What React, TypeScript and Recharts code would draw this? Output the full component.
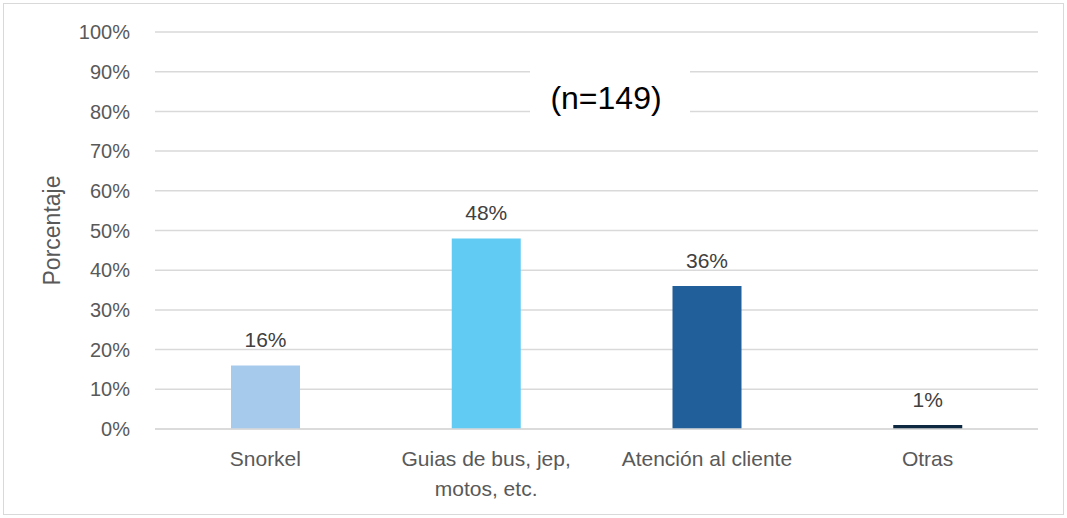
import React from 'react'
import { BarChart, Bar, XAxis, YAxis, CartesianGrid, Cell, LabelList } from 'recharts'

// categorías y valores (%)
const categories = ['Snorkel', 'Guias de bus, jep, motos, etc.', 'Atención al cliente', 'Otras']
const values = [16, 48, 36, 1]
const barColors = ['#A6CAEC', '#61CBF3', '#215F9A', '#0E2841']
const yTicks = [0, 10, 20, 30, 40, 50, 60, 70, 80, 90, 100]
const sampleNote = '(n=149)'
const yTitle = 'Porcentaje'

const data = categories.map((name, i) => ({ name, value: values[i] }))

const FONT = '"Liberation Sans", Arial, sans-serif'

// parte la etiqueta en líneas de hasta maxChars caracteres
const wrap = (s: string, maxChars = 19) => {
  const lines: string[] = []
  let cur = ''
  s.split(' ').forEach((w) => {
    const next = cur ? cur + ' ' + w : w
    if (next.length > maxChars && cur) {
      lines.push(cur)
      cur = w
    } else cur = next
  })
  if (cur) lines.push(cur)
  return lines
}

const CategoryTick = (props: any) => {
  const { x, y, payload } = props
  const lines = wrap(String(payload.value))
  return (
    <text x={x} y={y + 37} textAnchor="middle" fill="#595959" fontSize={21} fontFamily={FONT}>
      {lines.map((l, i) => (
        <tspan key={i} x={x} dy={i === 0 ? 0 : 30}>
          {l}
        </tspan>
      ))}
    </text>
  )
}

export default function App() {
  return (
    <div style={{ position: 'absolute', left: 0, top: 0, width: 1067, height: 518, background: '#fff' }}>
      <div
        style={{
          position: 'absolute',
          left: 3,
          top: 3,
          width: 1061,
          height: 512,
          border: '1px solid #d9d9d9',
          boxSizing: 'border-box',
        }}
      />
      <BarChart
        width={1067}
        height={518}
        data={data}
        margin={{ top: 32, right: 29, bottom: 29, left: 0 }}
        style={{ position: 'absolute', left: 0, top: 0 }}
      >
        <CartesianGrid vertical={false} stroke="#d9d9d9" strokeWidth={1.5} />
        <XAxis
          dataKey="name"
          height={60}
          tickLine={false}
          tickSize={0}
          tickMargin={0}
          axisLine={{ stroke: '#d9d9d9', strokeWidth: 1.5 }}
          tick={<CategoryTick />}
          interval={0}
        />
        <YAxis
          width={155}
          domain={[0, 100]}
          ticks={yTicks}
          tickFormatter={(v: number) => `${v}%`}
          axisLine={false}
          tickLine={false}
          tickSize={0}
          tickMargin={25}
          tick={{ fill: '#595959', fontSize: 20, fontFamily: FONT }}
          label={{
            content: ({ viewBox }: any) => {
              const cy = viewBox.y + viewBox.height / 2
              return (
                <text
                  x={52}
                  y={cy}
                  transform={`rotate(-90 52 ${cy})`}
                  textAnchor="middle"
                  dominantBaseline="central"
                  fill="#595959"
                  fontSize={23}
                  fontFamily={FONT}
                >
                  {yTitle}
                </text>
              )
            },
          }}
        />
        <Bar dataKey="value" barSize={69} isAnimationActive={false}>
          {data.map((d, i) => (
            <Cell key={d.name} fill={barColors[i]} />
          ))}
          <LabelList
            dataKey="value"
            position="top"
            offset={18}
            formatter={(v: any) => `${v}%`}
            fill="#404040"
            fontSize={21}
            fontFamily={FONT}
          />
        </Bar>
      </BarChart>
      <div
        style={{
          position: 'absolute',
          left: 530,
          top: 63,
          width: 160,
          height: 70,
          paddingRight: 8,
          boxSizing: 'border-box',
          background: '#fff',
          display: 'flex',
          alignItems: 'center',
          justifyContent: 'center',
          fontFamily: FONT,
          fontSize: 32,
          color: '#000',
        }}
      >
        {sampleNote}
      </div>
    </div>
  )
}
